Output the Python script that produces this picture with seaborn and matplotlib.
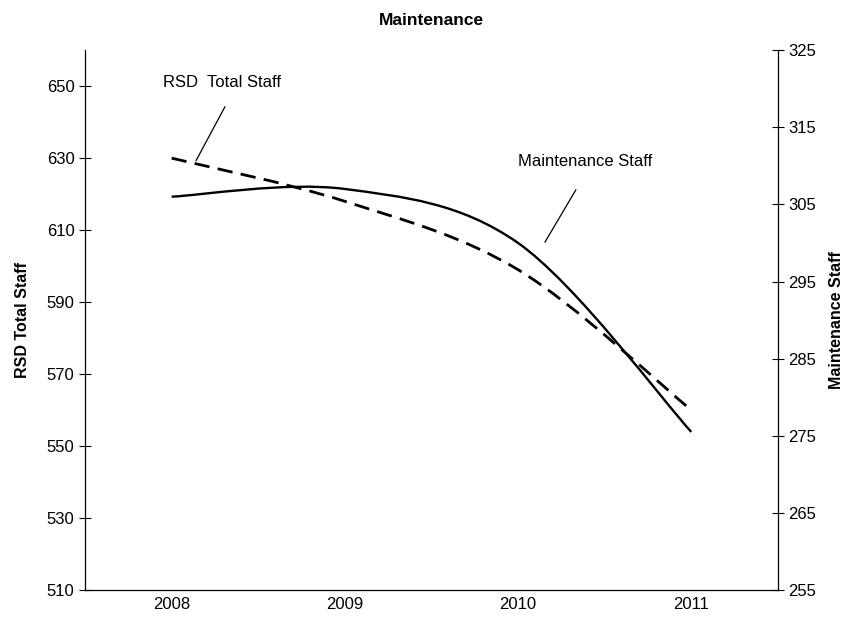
import numpy as np
import matplotlib
matplotlib.use("Agg")
import matplotlib.pyplot as plt
from matplotlib.path import Path
from matplotlib.patches import PathPatch
import seaborn as sns

years = ["2008", "2009", "2010", "2011"]
rsd_total = [630, 618, 599, 560]
maint_staff = [306, 307, 300, 275.5]

left_ticks = [510, 530, 550, 570, 590, 610, 630, 650]
right_ticks = [255, 265, 275, 285, 295, 305, 315, 325]


def smooth_path(x, y):
    # excel-style smoothed line: cubic bezier through every point
    x = np.asarray(x, float)
    y = np.asarray(y, float)
    n = len(x)
    verts = [(x[0], y[0])]
    codes = [Path.MOVETO]
    for i in range(n - 1):
        p0 = np.array([x[max(i - 1, 0)], y[max(i - 1, 0)]])
        p1 = np.array([x[i], y[i]])
        p2 = np.array([x[i + 1], y[i + 1]])
        p3 = np.array([x[min(i + 2, n - 1)], y[min(i + 2, n - 1)]])
        c1 = p1 + (p2 - p0) / 6
        c2 = p2 - (p3 - p1) / 6
        verts += [tuple(c1), tuple(c2), tuple(p2)]
        codes += [Path.CURVE4] * 3
    return Path(verts, codes)


sns.set_style("white")
plt.rcParams['font.family'] = ['Liberation Sans', 'DejaVu Sans']
for k in ('text.color', 'axes.labelcolor', 'xtick.color', 'ytick.color'):
    plt.rcParams[k] = 'black'

fig = plt.figure(figsize=(8.46, 6.27), dpi=100)
ax = fig.add_axes([0.1005, 0.059, 0.819, 0.861])
ax2 = ax.twinx()

xpos = np.arange(len(years))

ax.add_patch(PathPatch(smooth_path(xpos, rsd_total), fill=False, ec='black',
                       lw=2.0, linestyle=(0, (5.5, 3.0)), capstyle='butt'))
ax2.add_patch(PathPatch(smooth_path(xpos, maint_staff), fill=False, ec='black',
                        lw=1.7))

ax.set_xlim(-0.5, 3.5)
ax.set_ylim(510, 660)
ax2.set_ylim(255, 325)

ax.set_xticks(xpos)
ax.set_xticklabels(years, fontsize=12)
ax.set_xticks(np.arange(-0.5, 4.0, 1.0), minor=True)
ax.tick_params(axis='x', which='major', length=0, pad=5)
ax.tick_params(axis='x', which='minor', direction='inout', length=8, width=0.8, color='black')

ax.set_yticks(left_ticks)
ax.tick_params(axis='y', direction='inout', length=8, width=0.8, color='black',
               labelsize=12, left=True)
ax2.set_yticks(right_ticks)
ax2.tick_params(axis='y', direction='inout', length=8, width=0.8, color='black',
                labelsize=12, right=True)

for a in (ax, ax2):
    a.spines['top'].set_visible(False)
    for s in ('left', 'right', 'bottom'):
        a.spines[s].set_color('black')
        a.spines[s].set_linewidth(0.9)
ax.spines['right'].set_visible(False)
ax2.spines['left'].set_visible(False)
ax2.spines['bottom'].set_visible(False)

ax.set_ylabel("RSD Total Staff", fontsize=11.5, fontweight='bold', labelpad=12)
ax2.set_ylabel("Maintenance Staff", fontsize=11.5, fontweight='bold',
               rotation=90, labelpad=9)
ax.set_title("Maintenance", fontsize=12.5, fontweight='bold', pad=18)

# callout labels
ax.text(-0.05, 651, "RSD  Total Staff", fontsize=12, ha='left', va='center')
ax.plot([0.308, 0.141], [644.3, 629.3], color='black', lw=0.9)
ax2.text(2.39, 310.5, "Maintenance Staff", fontsize=12, ha='center', va='center')
ax2.plot([2.334, 2.155], [306.9, 300.1], color='black', lw=0.9)

fig.savefig("out.png", dpi=100)
